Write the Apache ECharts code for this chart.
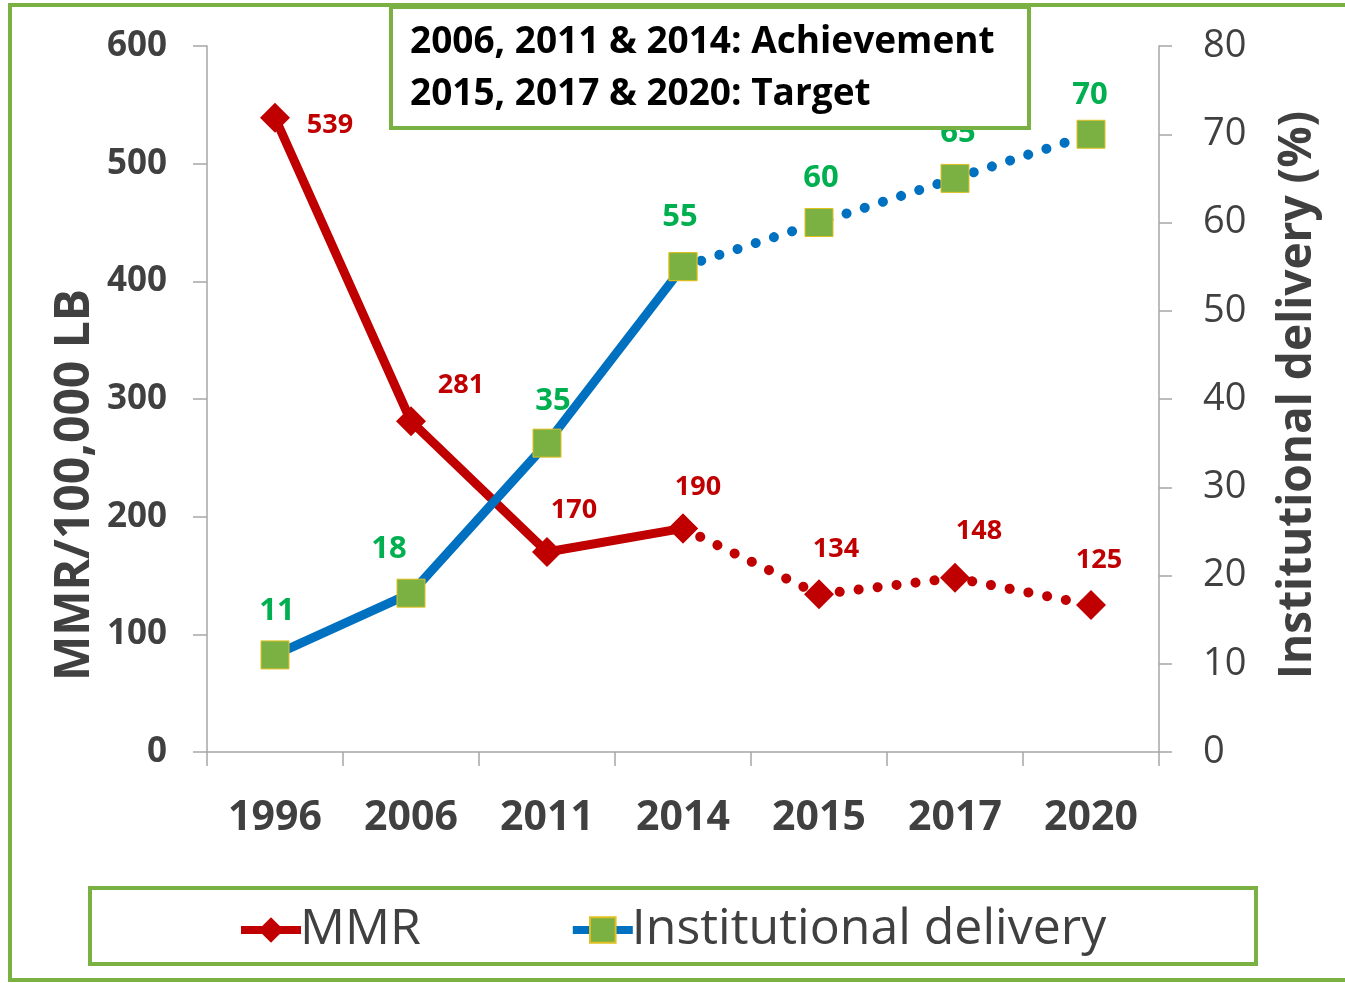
<!DOCTYPE html>
<html>
<head>
<meta charset="utf-8">
<script src="https://cdn.jsdelivr.net/npm/echarts@6/dist/echarts.min.js"></script>
<style>html,body{margin:0;padding:0;background:#fff}#c{width:1345px;height:983px}</style>
</head>
<body>
<div id="c"></div>
<script>
const years = ['1996', '2006', '2011', '2014', '2015', '2017', '2020'];
const mmr = [539, 281, 170, 190, 134, 148, 125];
const delivery = [11, 18, 35, 55, 60, 65, 70];
const achievedCount = 4; // first 4 points are achievements, rest targets
const leftTicks = [0, 100, 200, 300, 400, 500, 600];
const rightTicks = [0, 10, 20, 30, 40, 50, 60, 70, 80];

// label offsets (layout only)
const mmrLabelOffsets = [[55, 8], [50, -36], [27, -42], [15, -41], [17, -45], [24, -47], [8, -45]];
const delLabelOffsets = [[2, -44], [-22, -44], [6, -42], [-3, -49], [2, -44], [3, -45], [-1, -39]];

const RED = '#C00000', BLUE = '#0070C0', GREEN = '#7AB142', LGREEN = '#00B050', GRAY = '#404040', AX = '#A6A6A6';
const FONT = '"Open Sans", sans-serif';

function split(vals, offs) {
  const solid = vals.map((v, i) => i < achievedCount ? v : '-');
  const dotted = vals.map((v, i) => i >= achievedCount - 1 ? v : '-');
  const mk = (arr, showFrom) => arr.map((v, i) => {
    if (v === '-') return '-';
    return {value: v, label: {show: i >= showFrom, offset: offs[i]}};
  });
  return {solid: mk(solid, 0), dotted: mk(dotted, achievedCount)};
}
const m = split(mmr, mmrLabelOffsets);
const d = split(delivery, delLabelOffsets);

const mmrLabel = {position: 'inside', color: RED, fontSize: 27, fontWeight: 'bold', fontFamily: FONT};
const delLabel = {position: 'inside', color: LGREEN, fontSize: 31, fontWeight: 'bold', fontFamily: FONT};
const dotStyle = {type: [0.1, 19], cap: 'round', width: 10};
const sqStyle = {color: GREEN, borderColor: '#E0C020', borderWidth: 1};

const chart = echarts.init(document.getElementById('c'));
chart.setOption({
  animation: false,
  grid: {left: 207, right: 186, top: 46, bottom: 231, containLabel: false},
  xAxis: {
    type: 'category', data: years, boundaryGap: true,
    axisLine: {lineStyle: {color: AX, width: 1.5}},
    axisTick: {show: true, length: 14, lineStyle: {color: AX, width: 1.5}},
    axisLabel: {margin: 46, color: GRAY, fontSize: 41, fontWeight: 'bold', fontFamily: FONT}
  },
  yAxis: [{
    type: 'value', min: leftTicks[0], max: leftTicks[leftTicks.length - 1], interval: 100,
    axisLine: {show: true, lineStyle: {color: AX, width: 1.5}},
    axisTick: {show: true, length: 14, lineStyle: {color: AX, width: 1.5}},
    splitLine: {show: false},
    axisLabel: {margin: 40, color: GRAY, fontSize: 35, fontWeight: 'bold', fontFamily: FONT}
  }, {
    type: 'value', min: rightTicks[0], max: rightTicks[rightTicks.length - 1], interval: 10, position: 'right',
    axisLine: {show: true, lineStyle: {color: AX, width: 1.5}},
    axisTick: {show: true, length: 13, lineStyle: {color: AX, width: 1.5}},
    splitLine: {show: false},
    axisLabel: {margin: 44, color: GRAY, fontSize: 38, fontFamily: FONT}
  }],
  legend: {
    data: [
      {name: 'MMR', lineStyle: {width: 8}},
      {name: 'Institutional delivery', lineStyle: {width: 8}}
    ],
    left: 232, top: 900, itemWidth: 60, itemHeight: 32, itemGap: 148,
    textStyle: {color: GRAY, fontSize: 50, fontFamily: FONT, padding: [0, 0, 0, -6]}
  },
  series: [
    {name: 'MMR', type: 'line', yAxisIndex: 0, data: m.solid, symbol: 'diamond', symbolSize: 30,
     itemStyle: {color: RED}, lineStyle: {color: RED, width: 9}, label: mmrLabel, z: 3},
    {name: 'MMR', type: 'line', yAxisIndex: 0, data: m.dotted, symbol: 'diamond', symbolSize: 30,
     itemStyle: {color: RED}, lineStyle: Object.assign({color: RED}, dotStyle), label: mmrLabel, z: 3},
    {name: 'Institutional delivery', type: 'line', yAxisIndex: 1, data: d.solid, symbol: 'rect', symbolSize: 28,
     itemStyle: sqStyle, lineStyle: {color: BLUE, width: 9}, label: delLabel, z: 4},
    {name: 'Institutional delivery', type: 'line', yAxisIndex: 1, data: d.dotted, symbol: 'rect', symbolSize: 28,
     itemStyle: sqStyle, lineStyle: Object.assign({color: BLUE}, dotStyle), label: delLabel, z: 4}
  ],
  graphic: [
    {type: 'rect', shape: {x: 10, y: 5, width: 1345, height: 975}, style: {fill: 'none', stroke: GREEN, lineWidth: 4}, silent: true},
    {type: 'rect', shape: {x: 391, y: 7, width: 638, height: 121}, style: {fill: '#fff', stroke: GREEN, lineWidth: 4}, z: 10},
    {type: 'text', x: 410, y: 42, z: 11, style: {text: '2006, 2011 & 2014: Achievement', fill: '#000', font: 'bold 37px "Open Sans", sans-serif', verticalAlign: 'middle'}},
    {type: 'text', x: 410, y: 94, z: 11, style: {text: '2015, 2017 & 2020: Target', fill: '#000', font: 'bold 37px "Open Sans", sans-serif', verticalAlign: 'middle'}},
    {type: 'rect', shape: {x: 90, y: 888, width: 1166, height: 76}, style: {fill: 'none', stroke: GREEN, lineWidth: 4}},
    {type: 'text', x: 75, y: 485, rotation: Math.PI / 2, style: {text: 'MMR/100,000 LB', fill: GRAY, font: 'bold 48px "Open Sans", sans-serif', align: 'center', verticalAlign: 'middle'}},
    {type: 'text', x: 1298, y: 395, rotation: Math.PI / 2, style: {text: 'Institutional delivery (%)', fill: GRAY, font: 'bold 46px "Open Sans", sans-serif', align: 'center', verticalAlign: 'middle'}}
  ]
});
</script>
</body>
</html>
